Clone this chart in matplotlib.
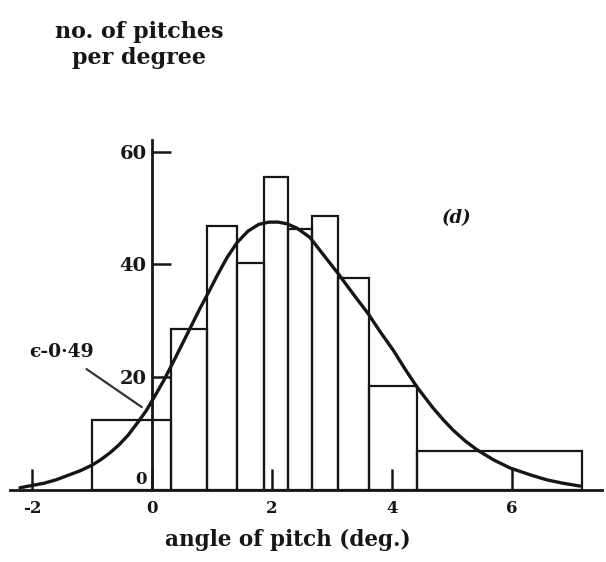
import numpy as np
import matplotlib
matplotlib.use("Agg")
import matplotlib.pyplot as plt

# Histogram of pitch angles: bin edges (deg.) and counts per degree
bin_edges = [-1.0, 0.31, 0.92, 1.42, 1.86, 2.27, 2.66, 3.10, 3.62, 4.41, 7.16]
counts = [12.5, 28.6, 46.8, 40.3, 55.5, 46.3, 48.6, 37.6, 18.4, 7.0]

# Fitted distribution curve
curve_x = [-2.2, -2.0, -1.8, -1.6, -1.4, -1.2, -1.0, -0.85, -0.7, -0.55, -0.4,
           -0.25, -0.1, 0.05, 0.2, 0.35, 0.5, 0.65, 0.8, 0.95, 1.1, 1.25, 1.42,
           1.6, 1.78, 1.95, 2.1, 2.25, 2.42, 2.63, 2.85, 3.1, 3.35, 3.6, 3.8,
           4.02, 4.22, 4.42, 4.68, 4.85, 5.02, 5.22, 5.42, 5.7, 5.97, 6.3, 6.58,
           6.85, 7.13]
curve_y = [0.4, 0.8, 1.2, 1.8, 2.6, 3.4, 4.4, 5.4, 6.6, 8.0, 9.7,
           11.8, 14.0, 16.7, 19.5, 22.6, 25.8, 29.0, 32.2, 35.2, 38.3, 41.2, 43.9,
           45.9, 47.1, 47.5, 47.5, 47.2, 46.4, 44.8, 41.8, 38.4, 34.8, 31.3, 28.1,
           24.8, 21.4, 18.2, 14.6, 12.5, 10.6, 8.7, 7.1, 5.3, 3.9, 2.7, 1.8,
           1.2, 0.7]

x_ticks = [-2, 0, 2, 4, 6]
y_ticks = [20, 40, 60]

ink = "#161616"
serif = "DejaVu Serif"

W, H = 606, 562
fig = plt.figure(figsize=(W / 100, H / 100), dpi=100)
fig.patch.set_facecolor("white")
ax = fig.add_axes([0, 0, 1, 1])
ax.set_facecolor("none")

# data-to-pixel layout: x=0 at 152 px, 60 px per degree; y=0 at 490 px, 5.64 px per unit
px_x0, px_per_deg = 152, 60.0
px_y0, px_per_unit = 490, 5.64
ax.set_xlim(-px_x0 / px_per_deg, (W - px_x0) / px_per_deg)
ax.set_ylim(-(H - px_y0) / px_per_unit, px_y0 / px_per_unit)

# histogram bars
widths = np.diff(bin_edges)
ax.bar(bin_edges[:-1], counts, width=widths, align="edge", fill=False,
       edgecolor=ink, linewidth=1.6, zorder=2)

# fitted curve
ax.plot(curve_x, curve_y, color=ink, linewidth=2.4, solid_capstyle="round",
        solid_joinstyle="round", zorder=3)

# axes through the origin
for s in ("top", "right"):
    ax.spines[s].set_visible(False)
ax.spines["left"].set_position(("data", 0))
ax.spines["bottom"].set_position(("data", 0))
ax.spines["left"].set_bounds(0, 62)
ax.spines["bottom"].set_bounds(-2.37, 7.5)
for s in ("left", "bottom"):
    ax.spines[s].set_linewidth(2.0)
    ax.spines[s].set_color(ink)

ax.set_xticks(x_ticks)
ax.set_xticklabels([str(t) for t in x_ticks])
ax.set_yticks(y_ticks)
ax.set_yticklabels([str(t) for t in y_ticks])
ax.tick_params(axis="x", direction="in", length=15, width=1.8, color=ink, pad=7,
               labelsize=12, labelcolor=ink)
ax.tick_params(axis="y", direction="in", length=14, width=1.8, color=ink, pad=4,
               labelsize=14, labelcolor=ink)
for lab in ax.get_xticklabels() + ax.get_yticklabels():
    lab.set_fontfamily(serif)
    lab.set_fontweight("bold")
# the -2 tick is drawn lighter
ax.get_xaxis().get_major_ticks()[0].tick1line.set_linewidth(1.2)

# zero label on the vertical axis
ax.text(-0.08, 1.8, "0", ha="right", va="center", fontsize=12, family=serif,
        fontweight="bold", color=ink)

# axis titles
ax.text(-0.22, 78.9, "no. of pitches\nper degree", ha="center", va="center",
        fontsize=16, family=serif, fontweight="bold", color=ink, linespacing=1.25)
ax.text(2.26, -8.9, "angle of pitch (deg.)", ha="center", va="center",
        fontsize=15.5, family=serif, fontweight="bold", color=ink)

# panel letter
ax.text(5.08, 48.2, "(d)", ha="center", va="center", fontsize=13, family=serif,
        fontweight="bold", style="italic", color=ink)

# epsilon annotation
ax.annotate("ϵ-0·49", xy=(-0.17, 14.7), xytext=(-1.51, 24.5),
            ha="center", va="center", fontsize=13.5, family=serif, fontweight="bold",
            color=ink,
            arrowprops=dict(arrowstyle="-", color="#333333", lw=1.6,
                            shrinkA=7, shrinkB=0))

fig.savefig("out.png", dpi=100, facecolor="white")
